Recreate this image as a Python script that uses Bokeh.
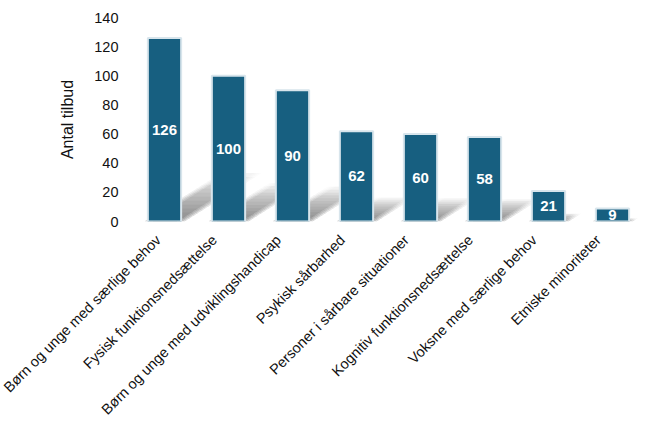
import math
from bokeh.plotting import figure
from bokeh.models import Range1d, ColumnDataSource, FixedTicker
from bokeh.core.properties import value
from bokeh.embed import file_html
from bokeh.resources import INLINE

categories = [
    "Børn og unge med særlige behov",
    "Fysisk funktionsnedsættelse",
    "Børn og unge med udviklingshandicap",
    "Psykisk sårbarhed",
    "Personer i sårbare situationer",
    "Kognitiv funktionsnedsættelse",
    "Voksne med særlige behov",
    "Etniske minoriteter",
]
values = [126, 100, 90, 62, 60, 58, 21, 9]
y_ticks = [0, 20, 40, 60, 80, 100, 120, 140]
y_label = "Antal tilbud"

FONT = "Liberation Sans"
BAR_COLOR = "#175f80"
SLOT = 100          # x units per category
BAR_WIDTH = 52      # x units
LABEL_SHIFT = -22   # x units, aligns rotated label ends with bar centres

n = len(categories)
xpos = [SLOT * i + SLOT // 2 for i in range(n)]

p = figure(
    frame_width=512, frame_height=204,
    x_range=Range1d(0, SLOT * n),
    y_range=Range1d(0, 140),
    output_backend="svg", toolbar_location=None,
    min_border_left=132, min_border_top=17, min_border_right=11, min_border_bottom=20,
)
p.outline_line_color = None
p.background_fill_color = "white"
p.border_fill_color = "white"
p.xgrid.grid_line_color = None
p.ygrid.grid_line_color = None

# soft perspective shadows
px_per_unit_y = 204 / 140.0
px_per_x = 512 / (SLOT * n)
fracs = [0.1 + 0.9 * k / 11 for k in range(12)]
spreads = [-4.0, -1.5, 1.0, 3.5]
for s in spreads:
    for frac in fracs:
        xs_layer, ys_layer = [], []
        for c, v in zip(xpos, values):
            xl = c - BAR_WIDTH / 2 - s / px_per_x
            xr = c + BAR_WIDTH / 2 + s / px_per_x
            hpx = v * px_per_unit_y
            dxp = 0.42 * hpx * frac
            dyp = 0.63 * dxp
            dx = dxp / px_per_x
            dy = dyp / px_per_unit_y
            xs_layer.append([xl, xr, xr + dx, xl + dx])
            ys_layer.append([0, 0, dy, dy])
        p.patches(xs_layer, ys_layer, fill_color="#666666", fill_alpha=0.018, line_color=None)

src = ColumnDataSource(dict(x=xpos, val=values, mid=[v / 2 for v in values],
                            lab=[str(v) for v in values]))
p.vbar(x="x", top="val", bottom=0, width=BAR_WIDTH, source=src,
       fill_color=BAR_COLOR, line_color="#d8e5ec", line_width=2)
p.text(x="x", y="mid", text="lab", source=src, text_align="center",
       text_baseline="middle", text_color="white", text_font=value(FONT),
       text_font_style="bold", text_font_size="15px")

tick_pos = [x + LABEL_SHIFT for x in xpos]
xa = p.xaxis[0]
xa.ticker = FixedTicker(ticks=tick_pos)
xa.major_label_overrides = {t: c for t, c in zip(tick_pos, categories)}
xa.major_label_orientation = math.pi / 4
xa.major_label_standoff = 16

for ax in (p.xaxis[0], p.yaxis[0]):
    ax.axis_line_color = None
    ax.major_tick_line_color = None
    ax.minor_tick_line_color = None
    ax.major_tick_out = 0
    ax.major_tick_in = 0
    ax.minor_tick_out = 0
    ax.minor_tick_in = 0
    ax.major_label_text_font = FONT
    ax.major_label_text_font_size = "14.5px"
    ax.major_label_text_color = "#111111"

ya = p.yaxis[0]
ya.ticker = FixedTicker(ticks=y_ticks)
ya.major_label_standoff = 14
ya.axis_label = y_label
ya.axis_label_text_font = FONT
ya.axis_label_text_font_style = "normal"
ya.axis_label_text_font_size = "16px"
ya.axis_label_text_color = "#111111"
ya.axis_label_standoff = 15

open("out.html", "w").write(file_html(p, INLINE))
